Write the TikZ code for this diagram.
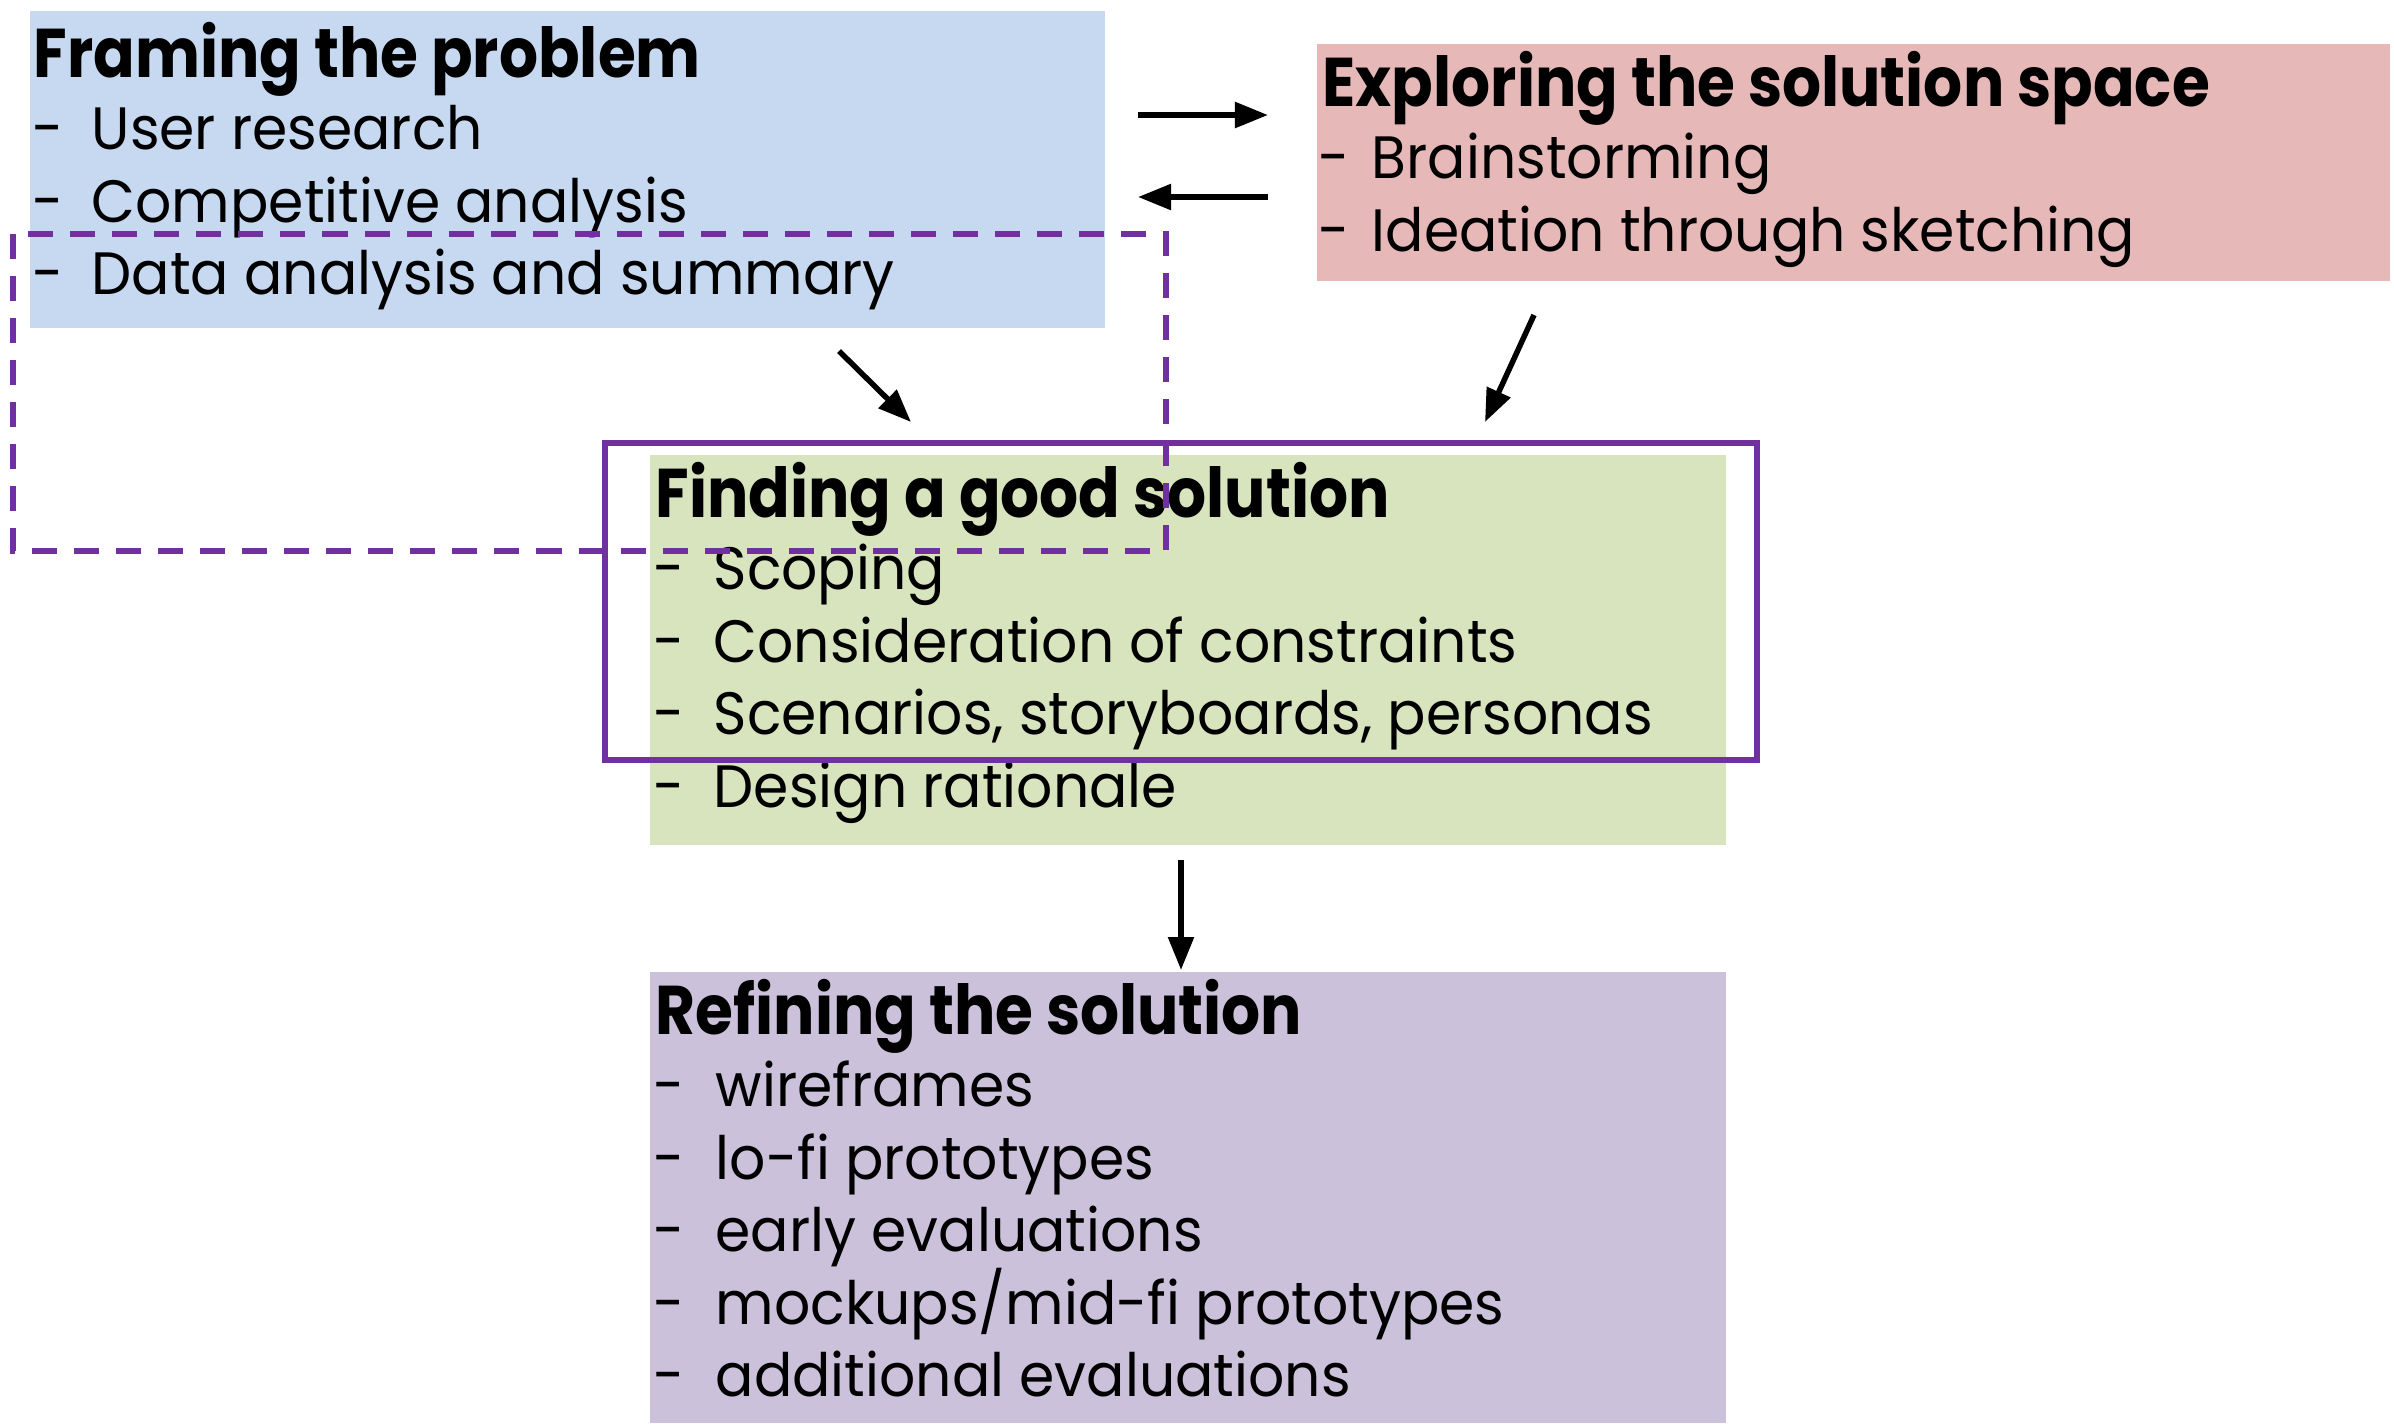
\documentclass[tikz,border=0pt]{standalone}
\usepackage{fontspec}
\setmainfont{Poppins}[FakeStretch=0.95]
\newfontfamily\headfont{Poppins}[FakeStretch=0.89]
\usetikzlibrary{arrows.meta}

\definecolor{frameblue}{HTML}{C6D9F1}
\definecolor{explorered}{HTML}{E6B9B8}
\definecolor{findgreen}{HTML}{D7E4BD}
\definecolor{refinelilac}{HTML}{CCC1DA}
\definecolor{hilite}{HTML}{7030A0}

\newcommand{\itemdash}[1]{\makebox[#1][l]{-}}

\tikzset{
  box/.style={anchor=north west,inner sep=0pt,outer sep=0pt},
  title/.style={anchor=base west,inner sep=0pt,font=\fontsize{19.6}{20}\headfont\bfseries},
  item/.style={anchor=base west,inner sep=0pt,font=\fontsize{17}{18}\selectfont},
  flow/.style={line width=0.055cm,-{Triangle[length=0.33cm,width=0.25cm]}}
}

\begin{document}
\begin{tikzpicture}[x=0.01cm,y=-0.01cm]
\useasboundingbox (0,0) rectangle (2394,1423);

% the four stages
\node[box,fill=frameblue,minimum width=10.74cm,minimum height=3.17cm] (frame) at (30,11){};
\node[box,fill=explorered,minimum width=10.72cm,minimum height=2.37cm] (explore) at (1317,44){};
\node[box,fill=findgreen,minimum width=10.75cm,minimum height=3.90cm] (find) at (650,455){};
\node[box,fill=refinelilac,minimum width=10.75cm,minimum height=4.51cm] (refine) at (650,972){};

\node[title] (frame title) at (33,77){Framing the problem};
\foreach \txt [count=\i] in {User research,Competitive analysis,Data analysis and summary}
  \node[item] (frame\i) at (32,{77+72.5*\i}){\itemdash{0.59cm}\txt};

\node[title] (explore title) at (1322,106){Exploring the solution space};
\foreach \txt [count=\i] in {Brainstorming,Ideation through sketching}
  \node[item] (explore\i) at (1318,{106+72.5*\i}){\itemdash{0.53cm}\txt};

\node[title] (find title) at (655,517){Finding a good solution};
\foreach \txt [count=\i] in {Scoping,Consideration of constraints,{Scenarios, storyboards, personas},Design rationale}
  \node[item] (find\i) at (653,{517+72.5*\i}){\itemdash{0.60cm}\txt};

\node[title] (refine title) at (655,1034){Refining the solution};
\foreach \txt [count=\i] in {wireframes,lo-fi prototypes,early evaluations,mockups/mid-fi prototypes,additional evaluations}
  \node[item] (refine\i) at (653,{1034+72.5*\i}){\itemdash{0.62cm}\txt};

% arrow ends
\coordinate (a) at (1138,115);
\coordinate (b) at (1268,115);
\coordinate (c) at (1268,197);
\coordinate (d) at (1138,197);
\coordinate (e) at (839,351);
\coordinate (f) at (911,422);
\coordinate (g) at (1534,315);
\coordinate (h) at (1485,422);
\coordinate (i) at (1181,860);
\coordinate (j) at (1181,970);
\foreach \from/\to in {a/b,c/d,e/f,g/h,i/j}
  \draw[flow] (\from) -- (\to);

% highlights
\draw[hilite,line width=0.06cm] (605,443) rectangle (1757,760);
\draw[hilite,line width=0.06cm,dash pattern=on 0.25cm off 0.17cm] (13,234) rectangle (1166,551);
\end{tikzpicture}
\end{document}
